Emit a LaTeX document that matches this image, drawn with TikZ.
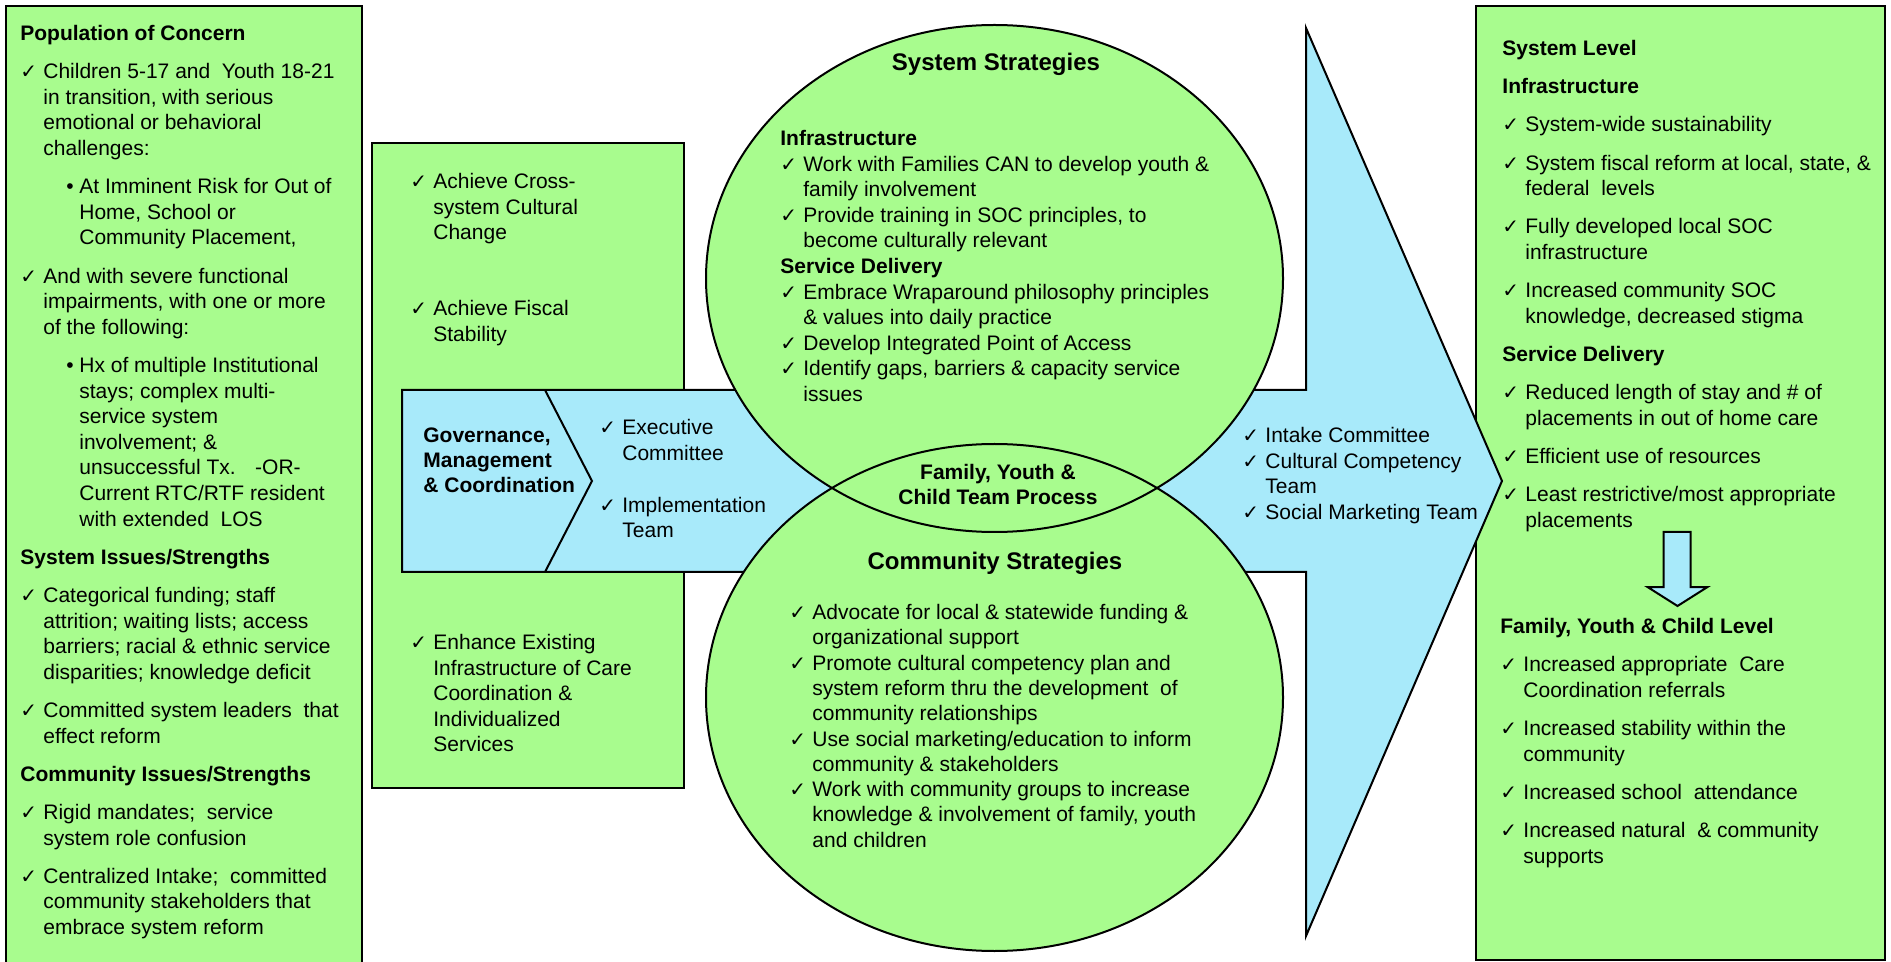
\documentclass[tikz,border=0pt]{standalone}
\usepackage{fontspec}
\setmainfont{Liberation Sans}
\newfontfamily\symfont{DejaVu Sans}
\usetikzlibrary{shapes.geometric}

\definecolor{leafgreen}{RGB}{168,252,142}
\definecolor{skyblue}{RGB}{168,234,250}

\newcommand{\ck}{\makebox[11.5pt][l]{\symfont\bfseries\fontsize{10}{10}\selectfont ✓}}
\newcommand{\hang}{\hspace*{11.5pt}}
\newcommand{\bul}{\hspace*{23pt}\makebox[6.5pt][l]{•}}
\newcommand{\bhang}{\hspace*{29.5pt}}
\newcommand{\gap}{\\[6.3pt]}

\tikzset{
  panel/.style={draw=black, line width=1.1pt, fill=leafgreen},
  itemtext/.style={inner sep=0pt, anchor=base west, font=\fontsize{10.5}{12.8}\selectfont},
  headtext/.style={inner sep=0pt, anchor=base, font=\fontsize{12}{14}\selectfont\bfseries},
  circ/.style={ellipse, minimum width=288.5pt, minimum height=253.5pt, inner sep=0pt},
}

\begin{document}
\begin{tikzpicture}[x=0.5pt, y=-0.5pt]
                \useasboundingbox (0,0) rectangle (1891,962);
                %boxes
                \draw[panel] (6,6) rectangle (362,975);
                \draw[panel] (372,143) rectangle (684,788);
                \draw[panel] (1476,6) rectangle (1885,960);
                %big arrow
                \draw[line width=1pt, fill=skyblue] (402,390) -- (1306,390) -- (1306,28) -- (1502,481)
                        -- (1306,936) -- (1306,572) -- (402,572) -- cycle;
                \draw[line width=1pt] (545,390) -- (592,481) -- (545,572);
                %circles
                \node[circ, fill=leafgreen] (sysc) at (994.5,278.5) {};
                \node[circ, fill=leafgreen] (comc) at (994.5,697.5) {};
                \foreach \c in {sysc,comc}
                    \node[circ, draw, line width=1pt] at (\c) {};

                %population
                \node[itemtext] (popn) at (20,40.5) {\begin{tabular}[t]{@{}l@{}}
                    \textbf{Population of Concern}\gap
                    \ck Children 5-17 and \ Youth 18-21\\
                    \hang in transition, with serious\\
                    \hang emotional or behavioral\\
                    \hang challenges:\gap
                    \bul At Imminent Risk for Out of\\
                    \bhang Home, School or\\
                    \bhang Community Placement,\gap
                    \ck And with severe functional\\
                    \hang impairments, with one or more\\
                    \hang of the following:\gap
                    \bul Hx of multiple Institutional\\
                    \bhang stays; complex multi-\\
                    \bhang service system\\
                    \bhang involvement; \&\\
                    \bhang unsuccessful Tx. \ \ -OR-\\
                    \bhang Current RTC/RTF resident\\
                    \bhang with extended \ LOS\gap
                    \textbf{System Issues/Strengths}\gap
                    \ck Categorical funding; staff\\
                    \hang attrition; waiting lists; access\\
                    \hang barriers; racial \& ethnic service\\
                    \hang disparities; knowledge deficit\gap
                    \ck Committed system leaders \ that\\
                    \hang effect reform\gap
                    \textbf{Community Issues/Strengths}\gap
                    \ck Rigid mandates; \ service\\
                    \hang system role confusion\gap
                    \ck Centralized Intake; \ committed\\
                    \hang community stakeholders that\\
                    \hang embrace system reform
                    \end{tabular}};

                %goals
                \node[itemtext] (goal1) at (410,188.5) {\begin{tabular}[t]{@{}l@{}}
                    \ck Achieve Cross-\\ \hang system Cultural\\ \hang Change\end{tabular}};
                \node[itemtext] (goal2) at (410,315.5) {\begin{tabular}[t]{@{}l@{}}
                    \ck Achieve Fiscal\\ \hang Stability\end{tabular}};
                \node[itemtext] (goal3) at (410,649.5) {\begin{tabular}[t]{@{}l@{}}
                    \ck Enhance Existing\\ \hang Infrastructure of Care\\ \hang Coordination \&\\
                    \hang Individualized\\ \hang Services\end{tabular}};

                %governance band
                \node[itemtext, font=\fontsize{10.5}{12.6}\selectfont\bfseries] (gov) at (423,442.5) {\begin{tabular}[t]{@{}l@{}}
                    Governance,\\ Management\\ \& Coordination\end{tabular}};
                \node[itemtext] (teams) at (599,434.5) {\begin{tabular}[t]{@{}l@{}}
                    \ck Executive\\ \hang Committee\\[13.2pt]
                    \ck Implementation\\ \hang Team\end{tabular}};
                \node[itemtext] (cmte) at (1242,442.5) {\begin{tabular}[t]{@{}l@{}}
                    \ck Intake Committee\\ \ck Cultural Competency\\ \hang Team\\
                    \ck Social Marketing Team\end{tabular}};

                %system strategies
                \node[headtext] (sysh) at (996,70.6) {System Strategies};
                \node[itemtext] (syst) at (780,145.5) {\begin{tabular}[t]{@{}l@{}}
                    \textbf{Infrastructure}\\
                    \ck Work with Families CAN to develop youth \&\\
                    \hang family involvement\\
                    \ck Provide training in SOC principles, to\\
                    \hang become culturally relevant\\
                    \textbf{Service Delivery}\\
                    \ck Embrace Wraparound philosophy principles\\
                    \hang \& values into daily practice\\
                    \ck Develop Integrated Point of Access\\
                    \ck Identify gaps, barriers \& capacity service\\
                    \hang issues
                    \end{tabular}};

                %team process
                \node[itemtext, anchor=base, font=\fontsize{10.5}{12.6}\selectfont\bfseries] (fyc) at (998,479.5) {\begin{tabular}[t]{@{}c@{}}
                    Family, Youth \&\\ Child Team Process\end{tabular}};

                %community strategies
                \node[headtext] (comh) at (995,569.6) {Community Strategies};
                \node[itemtext, font=\fontsize{10.5}{12.65}\selectfont] (comt) at (789,619.5) {\begin{tabular}[t]{@{}l@{}}
                    \ck Advocate for local \& statewide funding \&\\
                    \hang organizational support\\
                    \ck Promote cultural competency plan and\\
                    \hang system reform thru the development \ of\\
                    \hang community relationships\\
                    \ck Use social marketing/education to inform\\
                    \hang community \& stakeholders\\
                    \ck Work with community groups to increase\\
                    \hang knowledge \& involvement of family, youth\\
                    \hang and children
                    \end{tabular}};

                %outcomes
                \node[itemtext] (syslvl) at (1502,55.5) {\begin{tabular}[t]{@{}l@{}}
                    \textbf{System Level}\gap
                    \textbf{Infrastructure}\gap
                    \ck System-wide sustainability\gap
                    \ck System fiscal reform at local, state, \&\\
                    \hang federal \ levels\gap
                    \ck Fully developed local SOC\\
                    \hang infrastructure\gap
                    \ck Increased community SOC\\
                    \hang knowledge, decreased stigma\gap
                    \textbf{Service Delivery}\gap
                    \ck Reduced length of stay and \# of\\
                    \hang placements in out of home care\gap
                    \ck Efficient use of resources\gap
                    \ck Least restrictive/most appropriate\\
                    \hang placements
                    \end{tabular}};
                \node[itemtext] (famlvl) at (1500,633.5) {\begin{tabular}[t]{@{}l@{}}
                    \textbf{Family, Youth \& Child Level}\gap
                    \ck Increased appropriate \ Care\\
                    \hang Coordination referrals\gap
                    \ck Increased stability within the\\
                    \hang community\gap
                    \ck Increased school \ attendance\gap
                    \ck Increased natural \ \& community\\
                    \hang supports
                    \end{tabular}};

                %down arrow
                \coordinate (dtop) at (1677,532);
                \draw[line width=1pt, fill=skyblue] (dtop) ++(-13.5,0) -- ++(27,0) -- ++(0,55) -- ++(17,0)
                        -- ++(-30,19) -- ++(-30,-19) -- ++(16,0) -- cycle;
\end{tikzpicture}
\end{document}
